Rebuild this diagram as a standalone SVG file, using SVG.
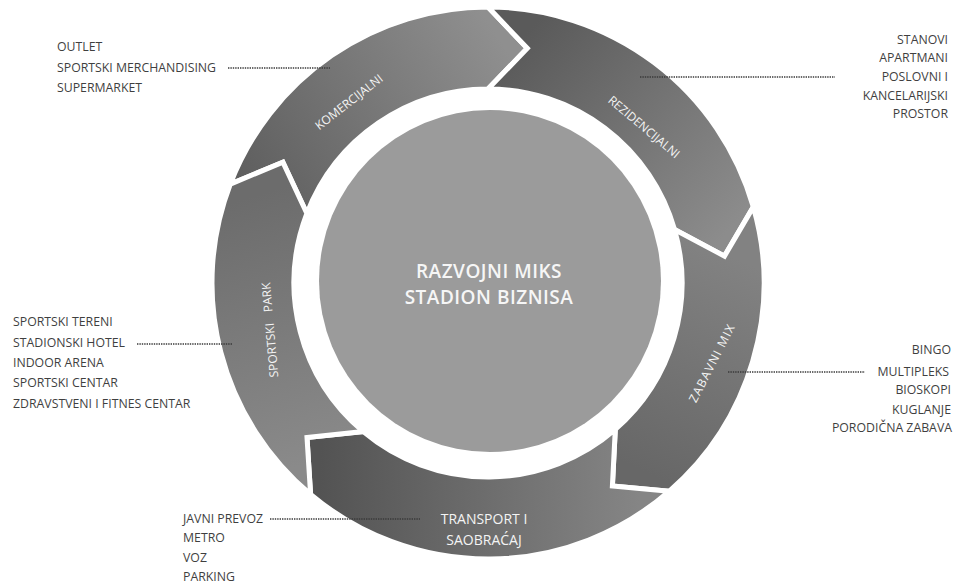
<svg xmlns="http://www.w3.org/2000/svg" width="955" height="585" viewBox="0 0 955 585">
<style>
.seg{stroke:#ffffff;stroke-width:5;stroke-linejoin:miter}
.lbl{font-family:"Open Sans","Liberation Sans",sans-serif;font-size:12.3px;fill:#3f3f3f}
.rl{font-family:"Open Sans","Liberation Sans",sans-serif;font-size:12px;fill:#f4f4f4;text-anchor:middle}
.ctr{font-family:"Open Sans","Liberation Sans",sans-serif;font-size:19px;font-weight:600;fill:#f6f6f6;text-anchor:middle;letter-spacing:0.5px}
.dot{stroke:#3a3a3a;stroke-width:1.4;stroke-dasharray:1.4 1;fill:none}
</style>
<defs>
<linearGradient id="gKom" gradientUnits="userSpaceOnUse" x1="250" y1="200" x2="500" y2="40"><stop offset="0" stop-color="#5e5e5e"/><stop offset="1" stop-color="#8f8f8f"/></linearGradient>
<linearGradient id="gRez" gradientUnits="userSpaceOnUse" x1="520" y1="40" x2="730" y2="230"><stop offset="0" stop-color="#5a5a5a"/><stop offset="1" stop-color="#8c8c8c"/></linearGradient>
<linearGradient id="gZab" gradientUnits="userSpaceOnUse" x1="740" y1="260" x2="640" y2="470"><stop offset="0" stop-color="#828282"/><stop offset="1" stop-color="#676767"/></linearGradient>
<linearGradient id="gTra" gradientUnits="userSpaceOnUse" x1="640" y1="480" x2="320" y2="470"><stop offset="0" stop-color="#858585"/><stop offset="1" stop-color="#535353"/></linearGradient>
<linearGradient id="gSpo" gradientUnits="userSpaceOnUse" x1="320" y1="460" x2="240" y2="200"><stop offset="0" stop-color="#8a8a8a"/><stop offset="1" stop-color="#6c6c6c"/></linearGradient>
</defs>
<rect width="955" height="585" fill="#ffffff"/>

<g id="komercijalni">
<path class="seg" fill="url(#gKom)" d="M230.3,184.1 A276,276 0 0 1 488,7 L527.3,48.3 L488,89 A194,194 0 0 0 306.9,213.5 L282.9,162.2 Z"/>
<text class="rl" transform="translate(349,102) rotate(-38)" dy="0.35em">KOMERCIJALNI</text>
</g>
<g id="rezidencijalni">
<path class="seg" fill="url(#gRez)" d="M488,7 A276,276 0 0 1 753.3,206.9 L724.5,256.1 L674.5,229.5 A194,194 0 0 0 488,89 L527.3,48.3 Z"/>
<text class="rl" transform="translate(644,127) rotate(40)" dy="0.35em">REZIDENCIJALNI</text>
</g>
<g id="zabavni">
<path class="seg" fill="url(#gZab)" d="M753.3,206.9 A276,276 0 0 1 669.1,491.3 L612.4,485.9 L615.3,429.4 A194,194 0 0 0 674.5,229.5 L724.5,256.1 Z"/>
<text class="rl" transform="translate(712,363) rotate(-63)" dy="0.35em" letter-spacing="1.2">ZABAVNI MIX</text>
</g>
<g id="transport">
<path class="seg" fill="url(#gTra)" d="M669.1,491.3 A276,276 0 0 1 310.6,494.4 L307,437.6 L363.3,431.6 A194,194 0 0 0 615.3,429.4 L612.4,485.9 Z"/>
<text class="rl" x="484" y="524" style="font-size:14px">TRANSPORT I</text>
<text class="rl" x="484" y="545" style="font-size:14px">SAOBRAĆAJ</text>
</g>
<g id="sportski">
<path class="seg" fill="url(#gSpo)" d="M310.6,494.4 A276,276 0 0 1 230.3,184.1 L282.9,162.2 L306.9,213.5 A194,194 0 0 0 363.3,431.6 L307,437.6 Z"/>
<text class="rl" transform="translate(270,330) rotate(-95)" dy="0.35em" word-spacing="8">SPORTSKI PARK</text>
</g>
<g id="centar">
<circle cx="490" cy="281" r="171" fill="#9b9b9b"/>
<text class="ctr" x="489" y="278">RAZVOJNI MIKS</text>
<text class="ctr" x="489" y="304">STADION BIZNISA</text>
</g>

<g id="connectors">
<line class="dot" x1="228" y1="68" x2="330" y2="68"/>
<line class="dot" x1="640" y1="77" x2="835" y2="77"/>
<line class="dot" x1="137" y1="344" x2="232" y2="344"/>
<line class="dot" x1="728" y1="372" x2="865" y2="372"/>
<line class="dot" x1="270" y1="519" x2="420" y2="519"/>
</g>

<g id="lbl-komercijalni">
<text class="lbl" x="57" y="51">OUTLET</text>
<text class="lbl" x="57" y="72">SPORTSKI MERCHANDISING</text>
<text class="lbl" x="57" y="92">SUPERMARKET</text>
</g>
<g id="lbl-rezidencijalni" text-anchor="end">
<text class="lbl" x="948" y="44">STANOVI</text>
<text class="lbl" x="948" y="62">APARTMANI</text>
<text class="lbl" x="948" y="81">POSLOVNI I</text>
<text class="lbl" x="948" y="100">KANCELARIJSKI</text>
<text class="lbl" x="948" y="118">PROSTOR</text>
</g>
<g id="lbl-sportski">
<text class="lbl" x="13" y="326">SPORTSKI TERENI</text>
<text class="lbl" x="13" y="347">STADIONSKI HOTEL</text>
<text class="lbl" x="13" y="367">INDOOR ARENA</text>
<text class="lbl" x="13" y="387">SPORTSKI CENTAR</text>
<text class="lbl" x="13" y="408">ZDRAVSTVENI I FITNES CENTAR</text>
</g>
<g id="lbl-zabavni" text-anchor="end">
<text class="lbl" x="951" y="354">BINGO</text>
<text class="lbl" x="949" y="376">MULTIPLEKS</text>
<text class="lbl" x="951" y="394">BIOSKOPI</text>
<text class="lbl" x="951" y="414">KUGLANJE</text>
<text class="lbl" x="952" y="432">PORODIČNA ZABAVA</text>
</g>
<g id="lbl-transport">
<text class="lbl" x="183" y="523">JAVNI PREVOZ</text>
<text class="lbl" x="183" y="542">METRO</text>
<text class="lbl" x="183" y="562">VOZ</text>
<text class="lbl" x="183" y="581">PARKING</text>
</g>
</svg>
